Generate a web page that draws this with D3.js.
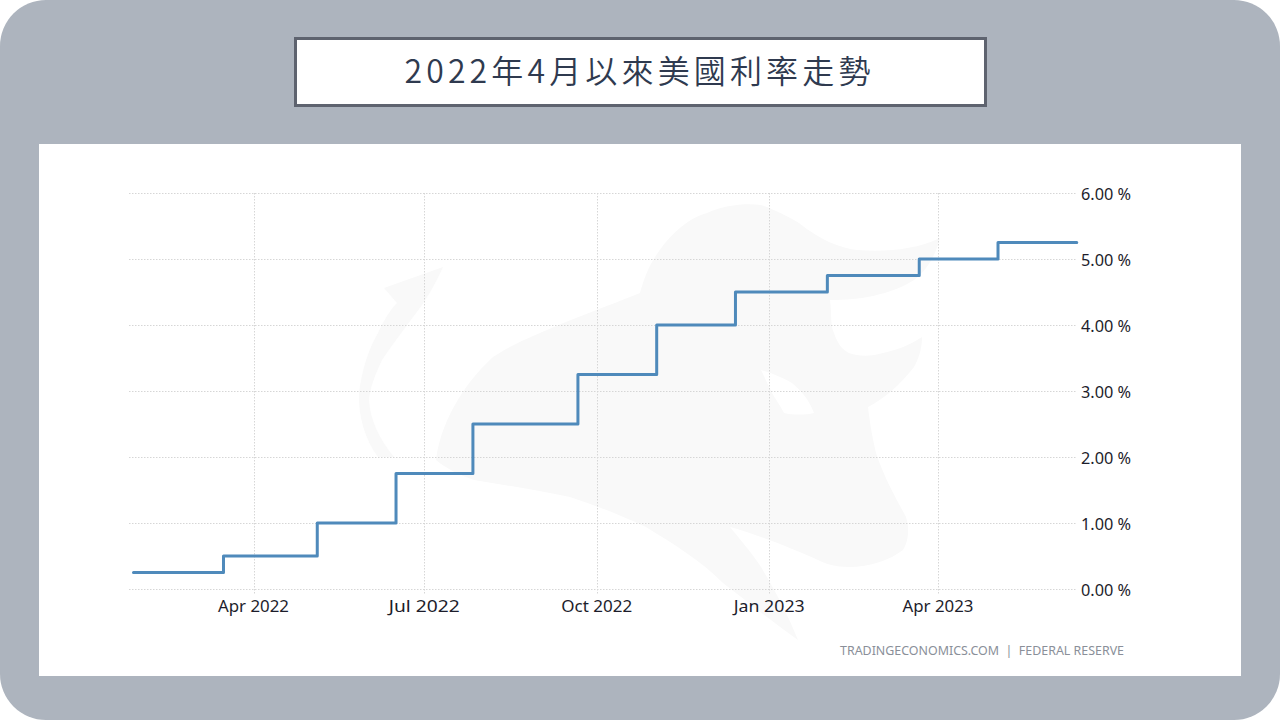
<!DOCTYPE html>
<html>
<head>
<meta charset="utf-8">
<script src="https://cdn.jsdelivr.net/npm/d3@7"></script>
<style>
html,body{margin:0;padding:0;background:#fff;overflow:hidden}
svg{display:block}
</style>
</head>
<body>
<svg id="c" width="1280" height="720"></svg>
<script>
const titleText = "2022年4月以來美國利率走勢";
const sourceText = "TRADINGECONOMICS.COM  |  FEDERAL RESERVE";
const stepDates = ["2022-01-27","2022-03-16","2022-05-05","2022-06-16","2022-07-27","2022-09-21","2022-11-02","2022-12-14","2023-02-01","2023-03-22","2023-05-03","2023-06-14"];
const stepRates = [0.25,0.5,1,1.75,2.5,3.25,4,4.5,4.75,5,5.25,5.25];
const yTicks = [0,1,2,3,4,5,6];
const xTickDates = ["2022-04-01","2022-07-01","2022-10-01","2023-01-01","2023-04-01"];
const xTickLabels = ["Apr 2022","Jul 2022","Oct 2022","Jan 2023","Apr 2023"];

const parse = d3.utcParse("%Y-%m-%d");
const svg = d3.select("#c");

svg.append("rect").attr("width",1280).attr("height",720).attr("rx",46).attr("ry",46).attr("fill","#adb4be");
svg.append("rect").attr("x",39).attr("y",144).attr("width",1202).attr("height",532).attr("fill","#fff");
svg.append("rect").attr("x",295.5).attr("y",38.5).attr("width",690).attr("height",67).attr("fill","#fff")
  .attr("stroke","#5e636f").attr("stroke-width",3);
svg.append("text").attr("x",639.5).attr("y",83).attr("text-anchor","middle")
  .attr("font-family","'Noto Sans CJK TC'").attr("font-weight",350).attr("font-size",32).attr("letter-spacing",4.15)
  .attr("fill","#2f3a4f").text(titleText);

// watermark
const wm = svg.append("g").attr("fill","#f9f9f9");
wm.append("path").attr("fill-rule","evenodd").attr("d",
 "M436 460 C440 425 462 385 493 357 C520 338 590 313 640 293 C645 275 650 262 665 243 C680 225 695 216 707 213 C725 205 745 203 761 205 C775 210 785 215 799 223 C820 240 840 248 857 250 C885 252 915 250 940 238 C935 258 925 272 914 280 C890 295 860 300 830 300 C832 315 830 325 834 333 C838 345 843 350 849 353 C860 357 873 356 883 353 C897 350 910 345 922 337 C922 350 918 360 914 367 C900 385 885 398 868 407 C870 425 873 440 876 453 C885 480 897 500 906 517 C910 530 908 542 903 550 C890 560 870 567 849 567 C835 567 826 564 818 560 C795 550 765 537 730 527 C745 545 753 555 761 567 C775 590 788 615 798 640 C770 620 745 600 723 583 C700 560 675 545 646 527 C620 515 595 505 570 497 C535 490 505 485 474 480 C460 475 445 468 436 460 Z M761 370 C772 373 783 378 792 383 C803 392 810 402 814 413 C805 415 793 415 784 413 C780 405 776 400 772 393 C768 385 765 378 761 370 Z");
wm.append("path").attr("d",
 "M378 457 C365 440 358 415 359 393 C362 370 368 350 378 333 C384 320 390 310 397 303 L384 288 L443 267 C435 285 425 302 413 317 C402 332 392 345 382 360 C375 375 370 388 369 400 C370 420 380 440 394 457 Z");

const x = d3.scaleUtc().domain([parse("2022-04-01"),parse("2023-04-01")]).range([253.5,938]);
const y = d3.scaleLinear().domain([0,6]).range([589,193]);

const grid = svg.append("g").attr("stroke","#d6d6d6").attr("stroke-width",1).attr("stroke-dasharray","1.5 1.5").attr("fill","none");
grid.selectAll("line.h").data(yTicks).join("line").attr("class","h")
  .attr("x1",129).attr("x2",1077).attr("y1",d=>y(d)+0.5).attr("y2",d=>y(d)+0.5);
grid.selectAll("line.v").data(xTickDates).join("line").attr("class","v")
  .attr("x1",d=>Math.round(x(parse(d)))+0.5).attr("x2",d=>Math.round(x(parse(d)))+0.5)
  .attr("y1",193).attr("y2",594);

const line = d3.line().x(d=>x(d.date)).y(d=>y(d.rate)).curve(d3.curveStepAfter);
const pts = stepDates.map((d,i)=>({date:parse(d),rate:stepRates[i]}));
svg.append("path").datum(pts).attr("d",line).attr("fill","none").attr("stroke","#4f8abb")
  .attr("stroke-width",3).attr("stroke-linejoin","round").attr("stroke-linecap","round");

const labelFont = "'Noto Sans'";
svg.append("g").selectAll("text").data(yTicks).join("text")
  .attr("x",1081).attr("y",d=>y(d)+6.5).attr("font-family",labelFont).attr("font-size",16)
  .attr("textLength",50).attr("lengthAdjust","spacingAndGlyphs")
  .attr("fill","#1d1d2b").text(d=>d3.format(".2f")(d)+" %");
svg.append("g").selectAll("text").data(xTickDates).join("text")
  .attr("x",d=>x(parse(d))).attr("y",611.5).attr("text-anchor","middle").attr("font-family",labelFont).attr("font-size",16)
  .attr("textLength",71).attr("lengthAdjust","spacingAndGlyphs")
  .attr("fill","#1d1d2b").text((d,i)=>xTickLabels[i]);
svg.append("text").attr("x",840).attr("y",655).attr("font-family",labelFont).attr("font-size",12)
  .style("white-space","pre")
  .attr("textLength",284).attr("lengthAdjust","spacingAndGlyphs")
  .attr("fill","#8a8f99").text(sourceText);
</script>
</body>
</html>
